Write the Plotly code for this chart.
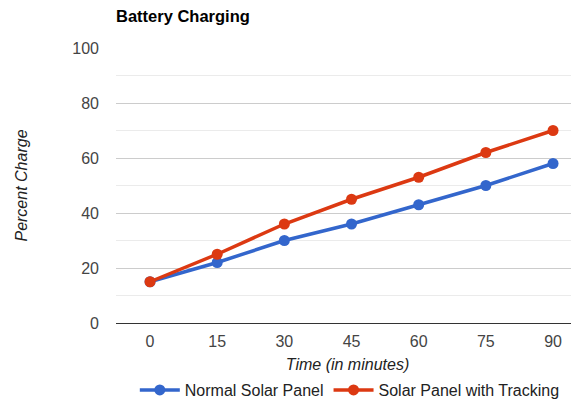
import plotly.graph_objects as go

minutes = [0, 15, 30, 45, 60, 75, 90]
normal = [15, 22, 30, 36, 43, 50, 58]
tracking = [15, 25, 36, 45, 53, 62, 70]
y_ticks = [0, 20, 40, 60, 80, 100]

fig = go.Figure()
fig.add_trace(go.Scatter(x=minutes, y=normal, mode="lines+markers", name="Normal Solar Panel",
                         line=dict(color="#3366cc", width=3.5), marker=dict(size=11, color="#3366cc")))
fig.add_trace(go.Scatter(x=minutes, y=tracking, mode="lines+markers", name="Solar Panel with Tracking",
                         line=dict(color="#dc3912", width=3.5), marker=dict(size=11, color="#dc3912")))

font = "Arial, Liberation Sans, sans-serif"
# page body has an 8px margin, so the figure is sized 8px smaller
W, H = 571, 392
fig.update_layout(
    width=W, height=H,
    margin=dict(l=108, r=0, t=40, b=77, autoexpand=False),
    paper_bgcolor="white", plot_bgcolor="white",
    font=dict(family=font, size=16, color="#444"),
    title=dict(text="<b>Battery Charging</b>", x=108/W, xanchor="left", y=1-8/H, yanchor="middle",
               font=dict(family=font, size=16.5, color="#000")),
    showlegend=True,
    legend=dict(orientation="h", x=0.505, xanchor="center", y=-0.2436, yanchor="middle",
                font=dict(family=font, size=16, color="#222"), itemwidth=40, traceorder="normal"),
    xaxis=dict(range=[-7.6, 95.8], tickvals=minutes, ticktext=[str(m) for m in minutes],
               showgrid=False, zeroline=False, showline=False, ticks="", ticklabelstandoff=7,
               title=dict(text="<i>Time (in minutes)</i>", font=dict(family=font, size=16, color="#222"), standoff=9),
               fixedrange=True),
    yaxis=dict(range=[0, 100], tickvals=y_ticks, showgrid=True, gridcolor="#cccccc", gridwidth=1,
               minor=dict(dtick=10, showgrid=True, gridcolor="#ebebeb", gridwidth=1, tick0=0),
               zeroline=True, zerolinecolor="#333333", zerolinewidth=1,
               ticks="", ticklabelstandoff=16,
               title=dict(text="<i>Percent Charge</i>", font=dict(family=font, size=16, color="#222"), standoff=40),
               fixedrange=True),
)
fig.write_html("out.html")
